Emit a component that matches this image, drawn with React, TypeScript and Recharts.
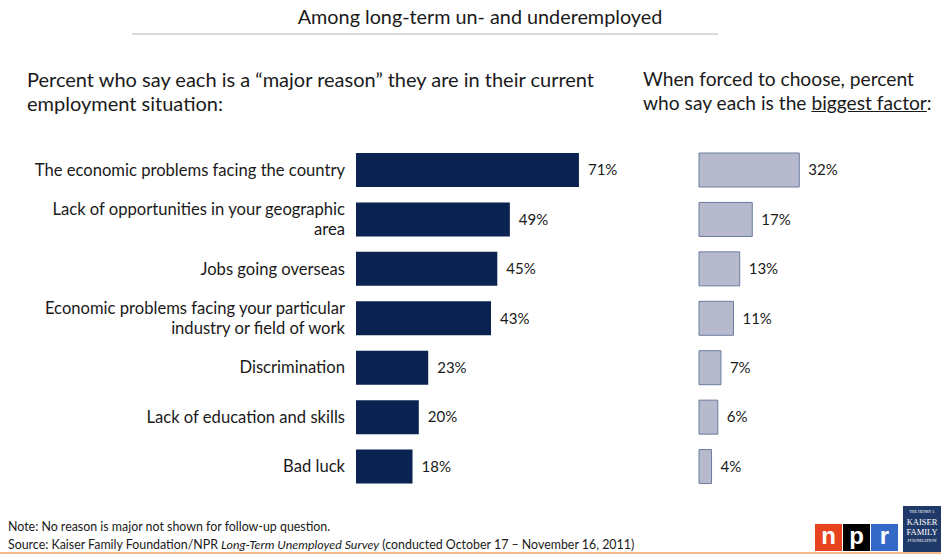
import type { ReactNode } from 'react';
import { BarChart, Bar, XAxis, YAxis, LabelList } from 'recharts';

// Reasons (line breaks kept as in the slide)
const REASONS: string[] = [
  'The economic problems facing the country',
  'Lack of opportunities in your geographic\narea',
  'Jobs going overseas',
  'Economic problems facing your particular\nindustry or field of work',
  'Discrimination',
  'Lack of education and skills',
  'Bad luck',
];

// Percent saying each is a "major reason"
const MAJOR_REASON: number[] = [71, 49, 45, 43, 23, 20, 18];

// Percent saying each is the biggest factor (forced choice)
const BIGGEST_FACTOR: number[] = [32, 17, 13, 11, 7, 6, 4];

const COLORS = {
  navy: '#0a2350',
  lavender: '#b7bacc',
  lavenderEdge: '#6b7ca0',
  text: '#1a1a1a',
  rule: '#d9d9d9',
  orange: '#f6b98a',
} as const;

const FONT = 'Lato, "Open Sans", sans-serif';

const rows = REASONS.map((reason, i) => ({
  reason,
  major: MAJOR_REASON[i],
  biggest: BIGGEST_FACTOR[i],
}));

interface TickProps {
  x?: number;
  y?: number;
  payload?: { value: string };
}

function ReasonTick({ x = 0, y = 0, payload }: TickProps): ReactNode {
  const lines = (payload?.value ?? '').split('\n');
  const lineHeight = 20;
  const startDy = -((lines.length - 1) * lineHeight) / 2;
  return (
    <text
      x={x}
      y={y}
      textAnchor="end"
      dominantBaseline="central"
      fill={COLORS.text}
      fontSize={16.6}
      fontFamily={FONT}
    >
      {lines.map((line, i) => (
        <tspan key={i} x={x} dy={i === 0 ? startDy : lineHeight}>
          {line}
        </tspan>
      ))}
    </text>
  );
}

const pct = (v: unknown) => `${String(v)}%`;

export default function App(): ReactNode {
  return (
    <div
      style={{
        position: 'relative',
        width: 941,
        height: 554,
        background: '#fff',
        fontFamily: FONT,
        color: COLORS.text,
        overflow: 'hidden',
      }}
    >
      <style>{'body{margin:0}'}</style>

      {/* heading */}
      <div
        style={{
          position: 'absolute',
          left: 230,
          width: 500,
          top: 4,
          textAlign: 'center',
          fontSize: 19.8,
        }}
      >
        Among long-term un- and underemployed
      </div>
      <div
        style={{
          position: 'absolute',
          left: 132,
          top: 33,
          width: 586,
          height: 2,
          background: COLORS.rule,
        }}
      />

      {/* sub headings */}
      <div
        style={{
          position: 'absolute',
          left: 27,
          top: 67,
          fontSize: 20,
          lineHeight: '24px',
          whiteSpace: 'nowrap',
        }}
      >
        Percent who say each is a “major reason” they are in their current
        <br />
        employment situation:
      </div>
      <div
        style={{
          position: 'absolute',
          left: 643,
          top: 67,
          fontSize: 19.2,
          lineHeight: '24px',
          whiteSpace: 'nowrap',
        }}
      >
        When forced to choose, percent
        <br />
        who say each is the <span style={{ textDecoration: 'underline' }}>biggest factor</span>:
      </div>

      {/* left chart: major reason */}
      <div style={{ position: 'absolute', left: 0, top: 0 }}>
        <BarChart
          width={680}
          height={554}
          data={rows}
          layout="vertical"
          margin={{ top: 145, right: 10, bottom: 63, left: 0 }}
          barCategoryGap={0}
        >
          <XAxis type="number" domain={[0, 100]} hide />
          <YAxis
            type="category"
            dataKey="reason"
            width={356}
            axisLine={false}
            tickLine={false}
            tickSize={6}
            tickMargin={5}
            tick={<ReasonTick />}
            interval={0}
          />
          <Bar dataKey="major" fill={COLORS.navy} barSize={34} isAnimationActive={false}>
            <LabelList
              dataKey="major"
              position="right"
              offset={9}
              formatter={pct}
              fill={COLORS.text}
              fontSize={15}
              fontFamily={FONT}
            />
          </Bar>
        </BarChart>
      </div>

      {/* right chart: biggest factor */}
      <div style={{ position: 'absolute', left: 640, top: 0 }}>
        <BarChart
          width={301}
          height={554}
          data={rows}
          layout="vertical"
          margin={{ top: 145, right: 7, bottom: 63, left: 59 }}
          barCategoryGap={0}
        >
          <XAxis type="number" domain={[0, 75]} hide />
          <YAxis type="category" dataKey="reason" hide />
          <Bar
            dataKey="biggest"
            fill={COLORS.lavender}
            stroke={COLORS.lavenderEdge}
            strokeWidth={1}
            barSize={34}
            isAnimationActive={false}
          >
            <LabelList
              dataKey="biggest"
              position="right"
              offset={9}
              formatter={pct}
              fill={COLORS.text}
              fontSize={15}
              fontFamily={FONT}
            />
          </Bar>
        </BarChart>
      </div>

      {/* footer */}
      <div
        style={{
          position: 'absolute',
          left: 8,
          top: 518,
          fontSize: 12.4,
          lineHeight: '18px',
          whiteSpace: 'nowrap',
        }}
      >
        Note: No reason is major not shown for follow-up question.
        <br />
        Source: Kaiser Family Foundation/NPR <i>Long-Term Unemployed Survey</i> (conducted October 17 – November
        16, 2011)
      </div>
      <div
        style={{
          position: 'absolute',
          left: 0,
          top: 552,
          width: 941,
          height: 2,
          background: COLORS.orange,
        }}
      />

      {/* npr logo */}
      <div style={{ position: 'absolute', left: 815, top: 524, display: 'flex' }}>
        {[
          ['n', '#e8431f'],
          ['p', '#000'],
          ['r', '#3569c8'],
        ].map(([ch, bg]) => (
          <div
            key={ch}
            style={{
              width: 27,
              height: 27,
              marginRight: 1,
              background: bg,
              color: '#fff',
              fontFamily: '"Liberation Sans", Arial, sans-serif',
              fontWeight: 700,
              fontSize: 24,
              lineHeight: '24px',
              textAlign: 'center',
            }}
          >
            {ch}
          </div>
        ))}
      </div>

      {/* kaiser logo */}
      <div
        style={{
          position: 'absolute',
          left: 903,
          top: 506,
          width: 38,
          height: 46,
          background: '#1f3a68',
          color: '#fff',
          fontFamily: '"Liberation Serif", serif',
          lineHeight: 1,
          textAlign: 'center',
          overflow: 'hidden',
          whiteSpace: 'nowrap',
        }}
      >
        <div style={{ fontSize: 4, marginTop: 4 }}>THE HENRY J.</div>
        <div style={{ fontSize: 8.5, marginTop: 4 }}>KAISER</div>
        <div style={{ fontSize: 8.5, marginTop: 1 }}>FAMILY</div>
        <div style={{ fontSize: 4.5, marginTop: 3 }}>FOUNDATION</div>
      </div>
    </div>
  );
}
